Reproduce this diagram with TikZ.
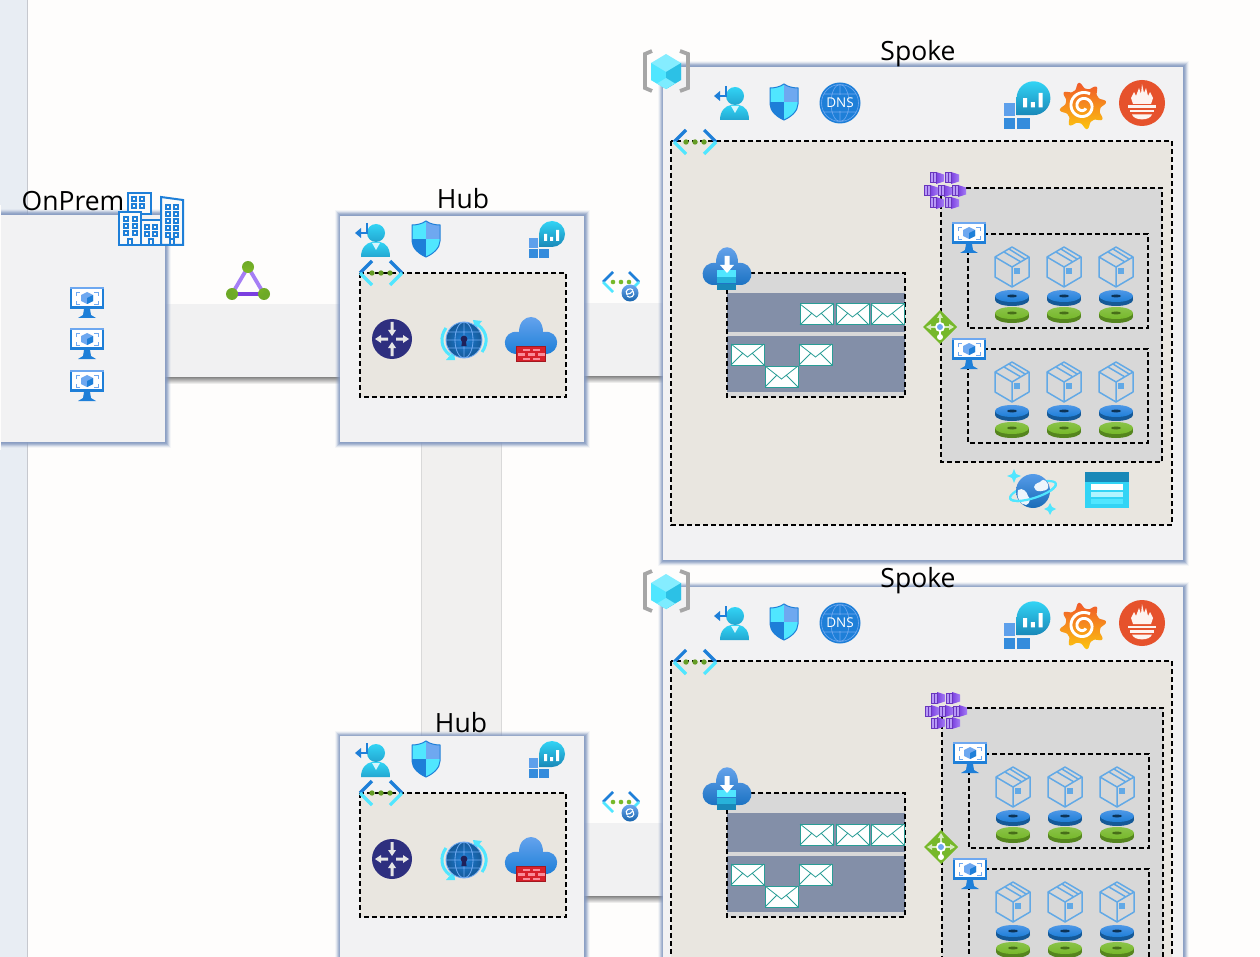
\documentclass[tikz,border=0pt]{standalone}
\usepackage{fontspec}
\setmainfont{Open Sans}
\usetikzlibrary{calc}
\definecolor{pagebg}{HTML}{FEFDFC}
\definecolor{stripbg}{HTML}{E8EDF3}
\definecolor{stripline}{HTML}{C6C8CE}
\definecolor{panelbg}{HTML}{F2F2F3}
\definecolor{barbg}{HTML}{F1F1F2}
\definecolor{vbarbg}{HTML}{F1F0EF}
\definecolor{vnetbg}{HTML}{E9E6E0}
\definecolor{greybox}{HTML}{D8D8D8}
\definecolor{slatebar}{HTML}{838FA8}
\definecolor{halo}{HTML}{8499C0}
\definecolor{azblue}{HTML}{1E7FD8}
\definecolor{azlight}{HTML}{6EA8F0}
\definecolor{azcyan}{HTML}{50E6FF}
\definecolor{aztealtop}{HTML}{32D4F5}
\definecolor{aztealbot}{HTML}{1988B8}
\definecolor{azgreen}{HTML}{76B82A}
\definecolor{azpurple}{HTML}{7B3FE0}
\definecolor{azlilac}{HTML}{A57EF5}
\definecolor{envteal}{HTML}{2A9D96}
\definecolor{cubeline}{HTML}{62A9E6}
\definecolor{routerblue}{HTML}{2E2F7F}
\definecolor{fwred}{HTML}{D8202A}
\definecolor{fwpink}{HTML}{FA8C99}
\definecolor{promred}{HTML}{E6522C}
\definecolor{graftop}{HTML}{F0592A}
\definecolor{grafbot}{HTML}{FCC40F}
\tikzset{
  x=1pt,y=-1pt,
  labeltext/.style={inner sep=0pt,font=\fontsize{26.5}{29}\selectfont,text=black},
  dashbox/.style={draw=black,line width=1.7pt,dash pattern=on 5pt off 3pt},
  envbox/.style={fill=white,draw=envteal,line width=1pt},
  envline/.style={draw=envteal,line width=.8pt},
  pics/vmicon/.style={code={
    \fill[azblue] (-17,-15) rectangle (17,7);
    \fill[azlight] (-17,-15) rectangle (17,-13);
    \fill[white] (-15,-13) rectangle (15,4);
    \draw[azlight,line width=.9pt] (-11,-6)--(-11,-10)--(-7,-10) (7,-10)--(11,-10)--(11,-6) (11,-1)--(11,2)--(7,2) (-7,2)--(-11,2)--(-11,-1);
    \fill[azlight] (0,-10)--(6,-7)--(6,-1)--(0,2)--(-6,-1)--(-6,-7)--cycle;
    \fill[azblue] (0,-4)--(6,-7)--(6,-1)--(0,2)--cycle;
    \fill[azblue] (-3,7)--(3,7)--(4,13)--(9,16)--(-9,16)--(-4,13)--cycle;
  }},
  pics/identicon/.style={code={
    \shade[top color=aztealtop,bottom color=aztealbot!60!aztealtop] (2,-7) circle[radius=9];
    \shade[top color=aztealtop,bottom color=aztealbot!60!aztealtop] (-13,17) .. controls (-13,8) and (-8,3) .. (-2,2) -- (6,2) .. controls (12,3) and (16,8) .. (16,17) -- cycle;
    \fill[white!80!aztealtop] (-2,3)--(6,3)--(2,10)--cycle;
    \draw[azblue,line width=2.6pt] (-7,-17)--(-7,-7)--(-14,-7);
    \fill[azblue] (-19,-7)--(-13,-12)--(-13,-2)--cycle;
  }},
  pics/shieldicon/.style={code={
    \begin{scope}
      \clip (0,-18) .. controls (4,-15) and (10,-14) .. (14,-14) -- (14,2) .. controls (14,9) and (7,15) .. (0,18) .. controls (-7,15) and (-14,9) .. (-14,2) -- (-14,-14) .. controls (-10,-14) and (-4,-15) .. (0,-18) -- cycle;
      \fill[azcyan] (-15,-19) rectangle (0,0);
      \fill[azlight] (0,-19) rectangle (15,0);
      \fill[azblue] (-15,0) rectangle (0,19);
      \fill[azcyan] (0,0) rectangle (15,19);
    \end{scope}
    \draw[azblue,line width=1pt] (0,-18) .. controls (4,-15) and (10,-14) .. (14,-14) -- (14,2) .. controls (14,9) and (7,15) .. (0,18) .. controls (-7,15) and (-14,9) .. (-14,2) -- (-14,-14) .. controls (-10,-14) and (-4,-15) .. (0,-18) -- cycle;
  }},
  pics/monitoricon/.style={code={
    \shade[top color=aztealtop,bottom color=aztealbot] (-8,7) -- (-8,-6) .. controls (-8,-13.2) and (-2.2,-19) .. (5,-19) .. controls (12.2,-19) and (18,-13.2) .. (18,-6) .. controls (18,1.2) and (12.2,7) .. (5,7) -- cycle;
    \fill[white] (-3,-6) rectangle (0,1) (3,-3) rectangle (6,1) (9,-10) rectangle (12,1);
    \fill[azlight!80!azblue] (-18,-2) rectangle (-9,8);
    \fill[azblue!90] (-18,9) rectangle (-9,18);
    \fill[azblue!90] (-8,9) rectangle (2,18);
  }},
  pics/vneticon/.style={code={
    \draw[azblue,line width=3.2pt] (-21,0)--(-9,-12);
    \draw[azcyan,line width=3.2pt] (-21,0)--(-9,12);
    \draw[azblue,line width=3.2pt] (21,0)--(9,-12);
    \draw[azcyan,line width=3.2pt] (21,0)--(9,12);
    \fill[azgreen!85!black] (-9,0) circle[radius=2.7] (0,0) circle[radius=2.7] (9,0) circle[radius=2.7];
  }},
  pics/peericon/.style={code={
    \draw[azblue,line width=2.6pt] (-18,0)--(-8,-10);
    \draw[azcyan,line width=2.6pt] (-18,0)--(-8,10);
    \draw[azblue,line width=2.6pt] (18,0)--(8,-10);
    \draw[azcyan,line width=2.6pt] (18,0)--(8,10);
    \fill[azgreen] (-8,0) circle[radius=2.3] (0,0) circle[radius=2.3] (8,0) circle[radius=2.3];
    \shade[top color=azlight,bottom color=azblue!80!black] (9,11) circle[radius=8.5];
    \draw[white,line width=1.1pt] (6,13) .. controls (3,8) and (9,5) .. (12,8) (12,9) .. controls (9,11) and (9,13) .. (6,12);
    \draw[white,line width=1.1pt] (12,9) .. controls (15,14) and (9,17) .. (6,14);
  }},
  pics/routericon/.style={code={
    \fill[routerblue] (0,0) circle[radius=20];
    \fill[white!90!black] (-1.5,-17)--(1.5,-17)--(1.5,-9)--(4,-9)--(0,-3)--(-4,-9)--(-1.5,-9)--cycle;
    \fill[white!90!black] (-1.5,17)--(1.5,17)--(1.5,9)--(4,9)--(0,3)--(-4,9)--(-1.5,9)--cycle;
    \fill[white!90!black] (-4,-1.5)--(-11,-1.5)--(-11,-4)--(-17,0)--(-11,4)--(-11,1.5)--(-4,1.5)--cycle;
    \fill[white!90!black] (4,-1.5)--(11,-1.5)--(11,-4)--(17,0)--(11,4)--(11,1.5)--(4,1.5)--cycle;
  }},
  pics/vpnicon/.style={code={
    \draw[azcyan,line width=3pt] (-18,-12) .. controls (-24,-4) and (-24,8) .. (-14,15);
    \draw[azcyan,line width=3pt] (18,12) .. controls (24,4) and (24,-8) .. (14,-15);
    \fill[azcyan] (-18,20)--(-9,20)--(-10,11)--cycle;
    \fill[azcyan] (18,-19)--(9,-20)--(11,-11)--cycle;
    \shade[inner color=azblue,outer color=azblue!70!black] (0,0) circle[radius=18];
    \draw[azlight,line width=.8pt] (0,0) circle[radius=18] (0,0) ellipse[x radius=9,y radius=18] (-18,0)--(18,0) (0,-18)--(0,18) (-16,-8)--(16,-8) (-16,8)--(16,8);
    \fill[black!30!routerblue] (0,-1) circle[radius=3.4];
    \fill[black!30!routerblue] (-1.7,0)--(1.7,0)--(2.6,6)--(-2.6,6)--cycle;
  }},
  pics/cloudfw/.style={code={
    \shade[top color=azlight,bottom color=azblue] (-14,14) .. controls (-31,14) and (-30,-11) .. (-12,-8) .. controls (-12,-28) and (12,-28) .. (12,-8) .. controls (30,-11) and (31,14) .. (14,14) -- cycle;
    \fill[fwred!75!black] (-15,6) rectangle (15,22);
    \fill[fwred] (-14,7) rectangle (14,21);
    \foreach \yy/\xs in {8.5/-8,8.5/2,13/-13,13/-3,13/7,17.5/-8,17.5/2}{
      \fill[fwpink] (\xs,\yy) rectangle ++(7,2.6);
    }
  }},
  pics/clouddl/.style={code={
    \shade[top color=azlight,bottom color=azblue!90!black] (-13,16) .. controls (-29,16) and (-28,-8) .. (-11,-6) .. controls (-11,-27) and (11,-27) .. (11,-6) .. controls (28,-8) and (29,16) .. (13,16) -- cycle;
    \fill[azcyan] (-10,1) rectangle (9,8);
    \fill[aztealtop!55!aztealbot] (-10,8.5) rectangle (9,14.5);
    \fill[aztealbot] (-10,15) rectangle (9,21);
    \fill[white] (-2.5,-13)--(2.5,-13)--(2.5,-4)--(7,-4)--(0,4)--(-7,-4)--(-2.5,-4)--cycle;
  }},
  pics/towericon/.style={code={
    \tikzset{bline/.style={draw=azblue,line width=2pt,fill=pagebg!70!panelbg}}
    \path[bline] (-23,-25) rectangle (0,-4);
    \path[bline] (-32,-6) rectangle (-10,27);
    \path[bline] (-10,2) rectangle (10,27);
    \path[bline] (10,-21)--(32,-18)--(32,27)--(10,27)--cycle;
    \foreach \wx/\wy in {-19/-21,-11/-21,-19/-14,-11/-14,
      -27/-1,-18/-1,-27/6,-18/6,-27/13,-18/13,
      -6/7,2/7,-6/14,2/14,
      15/-13,23/-13,15/-6,23/-6,15/1,23/1,15/8,23/8,15/15,23/15}{
      \draw[azblue,line width=1.2pt] (\wx,\wy) rectangle ++(4,4);
    }
    \draw[azblue,line width=1.5pt] (-23,27)--(-23,21)--(-19,21)--(-19,27) (-2,27)--(-2,21)--(2,21)--(2,27) (19,27)--(19,21)--(23,21)--(23,27);
  }},
  pics/trianglenet/.style={code={
    \draw[azlilac,line width=3.8pt] (0,-14)--(-16,13) (0,-14)--(16,13);
    \draw[azpurple,line width=3.8pt] (-16,13)--(16,13);
    \shade[inner color=azgreen!85!yellow,outer color=azgreen!92!black] (0,-14) circle[radius=6] (-16,13) circle[radius=6] (16,13) circle[radius=6];
  }},
  pics/dnsicon/.style={code={
    \fill[azblue] (0,0) circle[radius=20.5];
    \draw[azlight,line width=.6pt] (0,0) circle[radius=18.5] (0,0) ellipse[x radius=9,y radius=18.5] (-16,-9)--(16,-9) (-16,9)--(16,9) (0,-18)--(0,-8) (0,8)--(0,18);
    \node[inner sep=0pt,text=white,font=\fontsize{13.5}{15}\selectfont] (dnstext) at (0,0) {DNS};
  }},
  pics/grafanaicon/.style={code={
    \shade[top color=graftop,bottom color=grafbot]
      plot[domain=0:359,samples=145] ({(17.5+6*(.5+.5*cos(8*\x+80))^2)*cos(\x)},{(17.5+6*(.5+.5*cos(8*\x+80))^2)*sin(\x)}) -- cycle;
    \draw[white,line width=2.9pt,domain=40:660,samples=70,smooth]
      plot ({(3+\x/60)*cos(\x)},{(3+\x/60)*sin(\x)});
  }},
  pics/prometheusicon/.style={code={
    \fill[promred] (0,0) circle[radius=23];
    \fill[white!93!promred] (-9,1)--(-11,-5)--(-8,-11)--(-6,-7)--(-3,-15)--(-1,-9)--(0,-19)--(2,-10)--(4,-15)--(6,-7)--(8,-11)--(11,-5)--(9,1)--cycle;
    \fill[white!93!promred] (-14,2.5) rectangle (14,5);
    \fill[white!93!promred] (-12,7) rectangle (12,9.5);
    \fill[white!93!promred] (-10,11.5) -- (10,11.5) .. controls (8,18) and (-8,18) .. (-10,11.5) -- cycle;
  }},
  pics/miniblock/.style={code={
    \shade[left color=azpurple,right color=azlilac] (-1,-6)--(7,-3.5)--(7,3.5)--(-1,6)--cycle;
    \fill[azlilac!80!white] (-6.5,-5) rectangle (-1,5);
    \draw[azpurple!85!black,line width=1pt] (-6.5,-5) rectangle (-1,5) (-3.5,-5)--(-3.5,5);
  }},
  pics/aksicon/.style={code={
    \foreach \ax/\ay in {-8/-13,7/-13,-14/0,0/0,14/0,-8/12,7/12}{
      \pic at (\ax,\ay) {miniblock};
    }
  }},
  pics/lbicon/.style={code={
    \fill[azgreen] (0,-17)--(17,0)--(0,17)--(-17,0)--cycle;
    \draw[white!70!azgreen,line width=1.3pt] (0,-4)--(0,-11) (-5,0)--(-12,0) (5,0)--(12,0);
    \fill[white!70!azgreen] (0,-14)--(3,-9)--(-3,-9)--cycle (-14,0)--(-9,-3)--(-9,3)--cycle (14,0)--(9,-3)--(9,3)--cycle;
    \fill[white] (0,10) circle[radius=3];
    \draw[white,line width=1.4pt] (0,3)--(0,9);
    \fill[white] (0,0) circle[radius=5];
    \fill[azlight] (0,0) circle[radius=3];
  }},
  pics/boxicon/.style={code={
    \draw[cubeline,line width=1.5pt,line join=round] (0,-20)--(17,-10)--(17,10)--(0,20)--(-17,10)--(-17,-10)--cycle;
    \draw[cubeline,line width=1.5pt,line join=round] (-17,-10)--(0,0)--(17,-10) (0,0)--(0,20) (-8,-15)--(9,-5) (-3,-18)--(13,-8);
    \fill[cubeline] (2,1) rectangle (8,7);
  }},
  pics/diskpair/.style={code={
    \fill[azgreen!72!black] (0,12) ellipse[x radius=17,y radius=6];
    \fill[azgreen!72!black] (-17,8) rectangle (17,12);
    \shade[top color=azgreen!85!white,bottom color=azgreen] (0,8) ellipse[x radius=17,y radius=6];
    \fill[azgreen!60!black] (0,8) ellipse[x radius=5,y radius=1.5];
    \fill[azblue!70!black] (0,-5) ellipse[x radius=17,y radius=6];
    \fill[azblue!70!black] (-17,-9) rectangle (17,-5);
    \shade[top color=azlight!60!azblue,bottom color=azblue] (0,-9) ellipse[x radius=17,y radius=6];
    \fill[azblue!40!black] (0,-9) ellipse[x radius=5,y radius=1.5];
  }},
  pics/cosmosicon/.style={code={
    \draw[azcyan,line width=2.2pt,rotate=18] (0,0) ellipse[x radius=24,y radius=7];
    \shade[top color=azlight!70!azblue,bottom color=azblue!85!black] (0,0) circle[radius=17];
    \fill[white!92!azblue] (-15,-1) .. controls (-10,-4) and (-6,1) .. (-5,5) .. controls (-2,7) and (-3,13) .. (-7,14) .. controls (-12,14) and (-17,7) .. (-15,-1) -- cycle;
    \fill[white!92!azblue] (1,-4) .. controls (2,-9) and (8,-8) .. (8,-10) .. controls (10,-13) and (16,-10) .. (15,-3) .. controls (13,1) and (1,2) .. (1,-4) -- cycle;
    \begin{scope}[rotate=18]
      \clip (-30,0) rectangle (30,10);
      \draw[azcyan,line width=2.2pt] (0,0) ellipse[x radius=24,y radius=7];
    \end{scope}
    \fill[azcyan] (-19,-22)--(-17,-17)--(-12,-15)--(-17,-13)--(-19,-8)--(-21,-13)--(-26,-15)--(-21,-17)--cycle;
    \fill[azcyan] (17,12)--(19,16)--(23,18)--(19,20)--(17,24)--(15,20)--(11,18)--(15,16)--cycle;
  }},
  pics/storeicon/.style={code={
    \fill[aztealtop] (-22,-18) rectangle (22,18);
    \fill[aztealbot] (-22,-18) rectangle (22,-8);
    \fill[white] (-16,-6) rectangle (16,0);
    \fill[azcyan!45!white] (-16,2) rectangle (16,7);
    \fill[azcyan] (-16,9) rectangle (16,14);
  }},
  pics/groupicon/.style={code={
    \draw[black!35,line width=3.8pt] (-14,-20)--(-21,-17)--(-21,17)--(-14,20);
    \draw[black!35,line width=3.8pt] (14,-20)--(22,-17)--(22,17)--(14,20);
    \fill[azcyan!70!white] (0,-17)--(15,-8)--(15,9)--(0,18)--(-15,9)--(-15,-8)--cycle;
    \fill[azcyan] (-15,-8)--(0,1)--(0,18)--(-15,9)--cycle;
    \fill[aztealtop!75!aztealbot] (15,-8)--(0,1)--(0,18)--(15,9)--cycle;
    \fill[azcyan!75!white] (0,18)--(-9,12.5)--(0,7)--(9,12.5)--cycle;
  }},
}
% helpers, all in picture pixels
\newcommand{\haloframe}[4]{%
  \foreach \dd/\oo in {6/.08,5/.16,4/.28,3/.4,2/.5,1/.55}{
    \fill[halo,opacity=\oo] (#1-\dd+1,#2-\dd+.5) rectangle (#3+\dd,#4+\dd);
  }
  \fill[panelbg] (#1,#2) rectangle (#3,#4);
}
\newcommand{\barshadow}[3]{%
  \shade[top color=black!48,bottom color=pagebg] (#1,#3) rectangle (#2,#3+7);
}
\newcommand{\envelope}[2]{%
  \path[envbox] (#1,#2) rectangle ++(33,21);
  \path[envline] (#1,#2) -- ++(16.5,13) -- ++(16.5,-13);
  \path[envline] (#1,#2+21) -- ++(12,-12);
  \path[envline] (#1+33,#2+21) -- ++(-12,-12);
}
\newcommand{\hubgroup}{%
  \haloframe{340}{216}{584}{442}
  \path[fill=vnetbg] (360,273) rectangle (566,397);
  \path[dashbox] (360,273) rectangle (566,397);
  \pic at (374,240) {identicon};
  \pic at (426,239) {shieldicon};
  \pic at (547,240) {monitoricon};
  \pic at (381,273) {vneticon};
  \pic at (392,339) {routericon};
  \pic at (464,340) {vpnicon};
  \pic at (531,340) {cloudfw};
}
\newcommand{\nodepool}[1]{%
  \path[dashbox] (968,#1) rectangle (1148,#1+94);
  \foreach \px in {1012,1064,1116}{
    \pic at (\px,#1+33) {boxicon};
    \pic at (\px,#1+71) {diskpair};
  }
}
\newcommand{\spokegroup}[1]{%
  \haloframe{663}{67}{1183}{560}
  \path[fill=vnetbg] (671,141) rectangle (1172,525);
  \path[dashbox] (671,141) rectangle (1172,525);
  \pic at (666,71) {groupicon};
  \pic at (733,103) {identicon};
  \pic at (784,102) {shieldicon};
  \pic at (840,103) {dnsicon};
  \pic[scale=1.3] at (1027,106) {monitoricon};
  \pic at (1083,106) {grafanaicon};
  \pic at (1142,103) {prometheusicon};
  \pic at (695,142) {vneticon};
  % queue block
  \path[fill=greybox] (727,273) rectangle (905,397);
  \path[fill=slatebar] (727,293) rectangle (905,332);
  \path[fill=slatebar] (727,336) rectangle (905,392);
  \path[dashbox] (727,273) rectangle (905,397);
  \envelope{800}{304}\envelope{836}{304}\envelope{871}{304}
  \envelope{731}{344}\envelope{799}{344}\envelope{765}{366}
  \pic at (727,269) {clouddl};
  % cluster block
  \begin{scope}[shift={(#1,0)}]
    \path[fill=greybox] (941,188) rectangle (1162,462);
    \path[dashbox] (941,188) rectangle (1162,462);
    \nodepool{234}
    \nodepool{349}
    \pic at (945,191) {aksicon};
    \pic at (969,237) {vmicon};
    \pic at (969,353) {vmicon};
    \pic at (940,327) {lbicon};
  \end{scope}
  \pic at (1033,491) {cosmosicon};
  \pic at (1107,490) {storeicon};
}
\begin{document}
\begin{tikzpicture}
\useasboundingbox (0,0) rectangle (1260,957);
\clip (0,0) rectangle (1260,957);
\fill[pagebg] (0,0) rectangle (1260,957);
\fill[stripbg] (0,0) rectangle (27,957);
\fill[stripline] (27,0) rectangle (28,957);
% link bands
\fill[barbg] (165,304) rectangle (340,377);
\barshadow{165}{340}{377}
\fill[barbg] (584,303) rectangle (663,376);
\barshadow{584}{663}{376}
\fill[barbg] (584,823) rectangle (663,896);
\barshadow{584}{663}{896}
\fill[vbarbg] (421,442) rectangle (502,736);
\draw[black!15,line width=1pt] (421.5,442)--(421.5,736) (501.5,442)--(501.5,736);
% on-prem
\haloframe{1}{215}{165}{442}
\fill[pagebg] (0,205) rectangle (1,450);
\pic at (87,302) {vmicon};
\pic at (87,343) {vmicon};
\pic at (87,385) {vmicon};
\pic at (151,218) {towericon};
\pic at (248,281) {trianglenet};
\node[labeltext] (onpremlabel) at (73,201) {OnPrem};
% hubs
\hubgroup
\begin{scope}[shift={(0,520)}]\hubgroup\end{scope}
\node[labeltext] (hublabela) at (463,199) {Hub};
\node[labeltext] (hublabelb) at (461,723) {Hub};
\pic at (621,282) {peericon};
\pic at (621,802) {peericon};
% spokes
\spokegroup{0}
\begin{scope}[shift={(0,520)}]\spokegroup{1}\end{scope}
\node[labeltext] (spokelabela) at (918,54) {Spoke};
\node[labeltext] (spokelabelb) at (918,581) {Spoke};
\end{tikzpicture}
\end{document}
